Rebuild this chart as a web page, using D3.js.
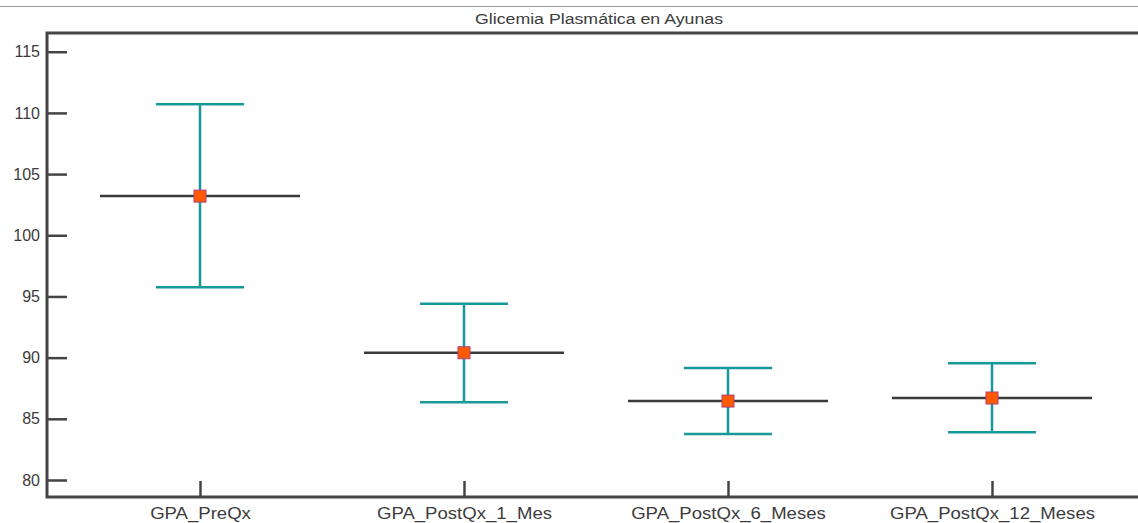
<!DOCTYPE html>
<html lang="es">
<head>
    <meta charset="UTF-8">
    <title>Glicemia Plasmática en Ayunas</title>
    <script src="https://d3js.org/d3.v7.min.js"></script>
    <style>
        body { margin: 0; background: #fff; overflow: hidden; }
        text { font-family: "Liberation Sans", Arial, sans-serif; fill: #3c3c3c; }
    </style>
</head>
<body>
    <div id="chart"></div>

    <script>
        // Data
        const categories = ["GPA_PreQx", "GPA_PostQx_1_Mes", "GPA_PostQx_6_Meses", "GPA_PostQx_12_Meses"];
        const means = [103.2, 90.4, 86.45, 86.7];
        const upper = [110.7, 94.4, 89.15, 89.55];
        const lower = [95.75, 86.35, 83.75, 83.9];
        const yTicks = [80, 85, 90, 95, 100, 105, 110, 115];

        const W = 1138, H = 523;
        const margin = { top: 33, right: 0, bottom: 26, left: 47 };

        const svg = d3.select("#chart")
            .append("svg")
            .attr("width", W)
            .attr("height", H)
            .style("display", "block");

        // thin line at the very top
        svg.append("line")
            .attr("x1", 0).attr("x2", W)
            .attr("y1", 6.5).attr("y2", 6.5)
            .attr("stroke", "#9a9a9a")
            .attr("stroke-width", 1);

        svg.append("text")
            .attr("x", 599)
            .attr("y", 24)
            .attr("text-anchor", "middle")
            .attr("textLength", 248)
            .attr("lengthAdjust", "spacingAndGlyphs")
            .style("font-size", "14px")
            .text("Glicemia Plasmática en Ayunas");

        const x = d3.scalePoint()
            .domain(categories)
            .range([200, 992]);

        const y = d3.scaleLinear()
            .domain([78.61, 116.53])
            .range([H - margin.bottom, margin.top]);

        const rows = categories.map((c, i) => ({ c, m: means[i], hi: upper[i], lo: lower[i] }));

        // y axis: ticks pointing inward
        const yAxis = svg.append("g")
            .attr("transform", `translate(${margin.left},0)`)
            .call(d3.axisRight(y).tickValues(yTicks).tickSize(20).tickSizeOuter(0).tickFormat(d3.format("d")));
        yAxis.select(".domain").remove();
        yAxis.selectAll(".tick line").attr("stroke", "#444").attr("stroke-width", 2.5);
        yAxis.selectAll(".tick text")
            .attr("x", -7)
            .attr("text-anchor", "end")
            .style("font-size", "16px")
            .attr("fill", "#3c3c3c");

        // x axis: ticks pointing upward
        const xAxis = svg.append("g")
            .attr("transform", `translate(0,${H - margin.bottom})`)
            .call(d3.axisTop(x).tickSize(16).tickSizeOuter(0));
        xAxis.select(".domain").remove();
        xAxis.selectAll(".tick line").attr("stroke", "#444").attr("stroke-width", 2.5);
        xAxis.selectAll(".tick text")
            .attr("y", 22)
            .style("font-size", "16px")
            .attr("fill", "#3c3c3c")
            .each(function () {
                // the labels in the picture are a little wider than the font
                const w = this.getComputedTextLength();
                d3.select(this)
                    .attr("textLength", w * 1.16)
                    .attr("lengthAdjust", "spacingAndGlyphs");
            });

        // frame: left, top, bottom (open on the right)
        svg.append("path")
            .attr("d", `M${W + 10},${margin.top}H${margin.left}V${H - margin.bottom}H${W + 10}`)
            .attr("fill", "none")
            .attr("stroke", "#444")
            .attr("stroke-width", 3);

        // mean lines
        svg.append("g").selectAll("line")
            .data(rows)
            .join("line")
            .attr("x1", d => x(d.c) - 100)
            .attr("x2", d => x(d.c) + 100)
            .attr("y1", d => y(d.m))
            .attr("y2", d => y(d.m))
            .attr("stroke", "#3a3a3a")
            .attr("stroke-width", 2.5);

        // error bars
        const err = svg.append("g")
            .attr("stroke", "#17999a")
            .attr("stroke-width", 2.5)
            .attr("fill", "none");

        err.selectAll(".stem")
            .data(rows)
            .join("line")
            .attr("class", "stem")
            .attr("x1", d => x(d.c)).attr("x2", d => x(d.c))
            .attr("y1", d => y(d.hi)).attr("y2", d => y(d.lo));

        err.selectAll(".capHi")
            .data(rows)
            .join("line")
            .attr("class", "capHi")
            .attr("x1", d => x(d.c) - 44).attr("x2", d => x(d.c) + 44)
            .attr("y1", d => y(d.hi)).attr("y2", d => y(d.hi));

        err.selectAll(".capLo")
            .data(rows)
            .join("line")
            .attr("class", "capLo")
            .attr("x1", d => x(d.c) - 44).attr("x2", d => x(d.c) + 44)
            .attr("y1", d => y(d.lo)).attr("y2", d => y(d.lo));

        // mean markers
        svg.append("g").selectAll("rect")
            .data(rows)
            .join("rect")
            .attr("x", d => x(d.c) - 6)
            .attr("y", d => y(d.m) - 6)
            .attr("width", 12)
            .attr("height", 12)
            .attr("fill", "#ff5a00")
            .attr("stroke", "#b0407a")
            .attr("stroke-width", 1);
    </script>
</body>
</html>
